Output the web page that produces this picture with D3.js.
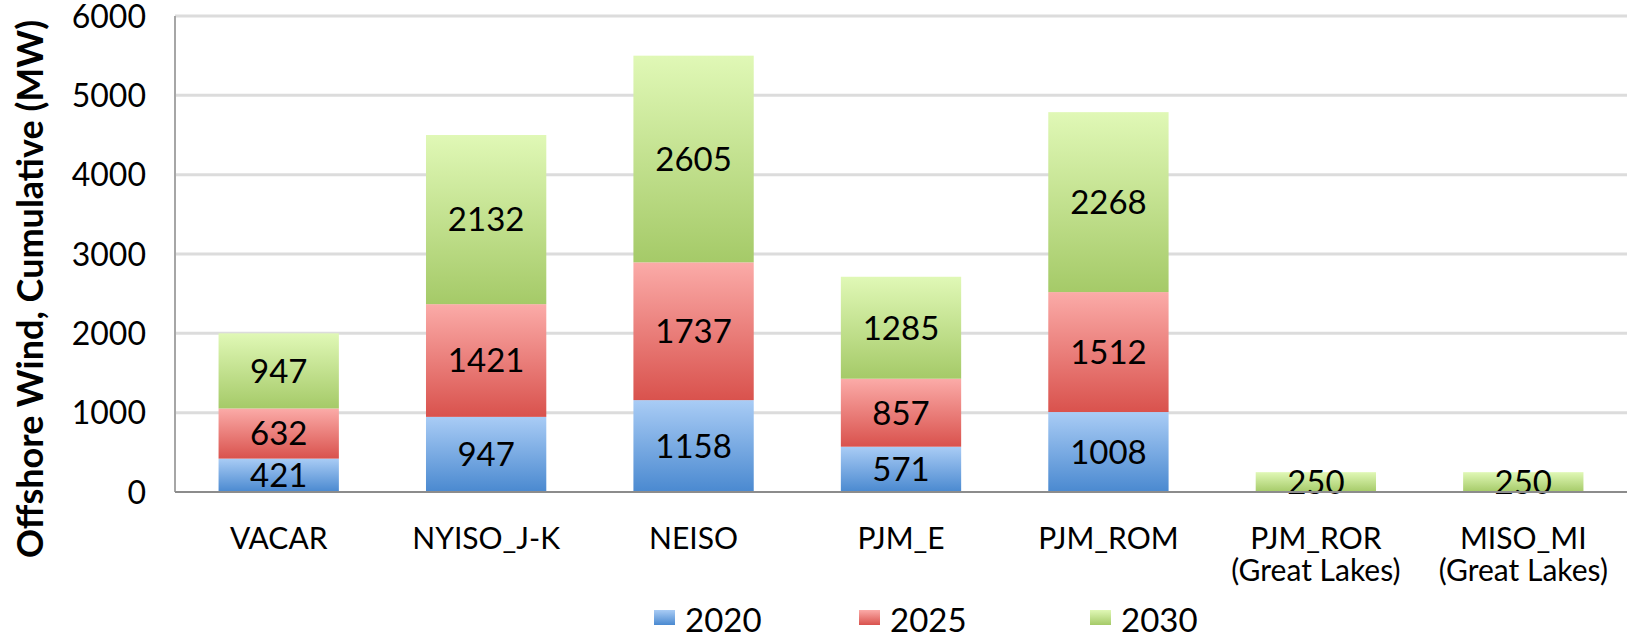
<!DOCTYPE html>
<html>
<head>
<meta charset="utf-8">
<script src="https://cdn.jsdelivr.net/npm/d3@7"></script>
<style>
  body { margin: 0; background: #fff; }
  text { font-family: Lato, "Open Sans", sans-serif; fill: #000; }
</style>
</head>
<body>
<svg width="1632" height="637"></svg>
<script>
// data
const regions = ["VACAR", "NYISO_J-K", "NEISO", "PJM_E", "PJM_ROM", "PJM_ROR\n(Great Lakes)", "MISO_MI\n(Great Lakes)"];
const years = ["2020", "2025", "2030"];
const mw2020 = [421, 947, 1158, 571, 1008, 0, 0];
const mw2025 = [632, 1421, 1737, 857, 1512, 0, 0];
const mw2030 = [947, 2132, 2605, 1285, 2268, 250, 250];
const yTicks = [0, 1000, 2000, 3000, 4000, 5000, 6000];

const svg = d3.select("svg");
const plotLeft = 175, plotRight = 1627, plotTop = 16, plotBottom = 492;

const rows = regions.map((r, i) => ({ region: r, "2020": mw2020[i], "2025": mw2025[i], "2030": mw2030[i] }));
const stacked = d3.stack().keys(years)(rows);

const x = d3.scaleBand().domain(regions).range([plotLeft, plotRight]).paddingInner(0.42).paddingOuter(0.21);
const y = d3.scaleLinear().domain([0, 6000]).range([plotBottom, plotTop]);

// gradients like the Excel fill
const grads = {
    "2020": ["#a9ccf5", "#4a89d0"],
    "2025": ["#fbaba8", "#d9524d"],
    "2030": ["#e0f8b6", "#a5ca68"]
};
const defs = svg.append("defs");
years.forEach(k => {
    const lg = defs.append("linearGradient").attr("id", "g" + k)
        .attr("x1", 0).attr("y1", 0).attr("x2", 0).attr("y2", 1);
    lg.append("stop").attr("offset", "0%").attr("stop-color", grads[k][0]);
    lg.append("stop").attr("offset", "100%").attr("stop-color", grads[k][1]);
});

// gridlines
svg.append("g")
    .selectAll("line")
    .data(yTicks.slice(1))
    .enter().append("line")
    .attr("x1", plotLeft).attr("x2", plotRight)
    .attr("y1", d => y(d)).attr("y2", d => y(d))
    .attr("stroke", "#dcdcdc").attr("stroke-width", 3);

// bars
const layer = svg.append("g").selectAll("g")
    .data(stacked)
    .enter().append("g")
    .attr("fill", d => "url(#g" + d.key + ")");

layer.selectAll("rect")
    .data(d => d.filter(s => s[1] - s[0] > 0))
    .enter().append("rect")
    .attr("x", d => x(d.data.region))
    .attr("width", x.bandwidth())
    .attr("y", d => y(d[1]))
    .attr("height", d => y(d[0]) - y(d[1]));

// axes lines
svg.append("line").attr("x1", plotLeft).attr("x2", plotLeft).attr("y1", plotTop).attr("y2", plotBottom)
    .attr("stroke", "#a6a6a6").attr("stroke-width", 2);
svg.append("line").attr("x1", plotLeft).attr("x2", plotRight).attr("y1", plotBottom).attr("y2", plotBottom)
    .attr("stroke", "#8c8c8c").attr("stroke-width", 2);

// data labels
layer.selectAll("text")
    .data(d => d.filter(s => s[1] - s[0] > 0))
    .enter().append("text")
    .attr("x", d => x(d.data.region) + x.bandwidth() / 2)
    .attr("y", d => y((d[0] + d[1]) / 2))
    .attr("dy", "0.36em")
    .attr("text-anchor", "middle")
    .style("font-size", "33px")
    .text(d => d[1] - d[0]);

// y tick labels
svg.append("g")
    .selectAll("text")
    .data(yTicks)
    .enter().append("text")
    .attr("x", 146)
    .attr("y", d => y(d))
    .attr("dy", "0.36em")
    .attr("text-anchor", "end")
    .style("font-size", "32px")
    .text(d => d);

// category labels
const cat = svg.append("g")
    .selectAll("text")
    .data(regions)
    .enter().append("text")
    .attr("x", d => x(d) + x.bandwidth() / 2)
    .attr("y", 549)
    .attr("text-anchor", "middle")
    .style("font-size", "30px");
cat.selectAll("tspan")
    .data(d => d.split("\n"))
    .enter().append("tspan")
    .attr("x", function () { return d3.select(this.parentNode).attr("x"); })
    .attr("dy", (d, i) => i ? 32 : 0)
    .text(d => d);

// y axis title
svg.append("text")
    .attr("transform", "translate(43,289) rotate(-90)")
    .attr("text-anchor", "middle")
    .style("font-size", "36px")
    .style("font-weight", "bold")
    .text("Offshore Wind, Cumulative (MW)");

// legend
const legendX = [654, 859, 1090];
const lg = svg.append("g").selectAll("g")
    .data(years)
    .enter().append("g")
    .attr("transform", (d, i) => "translate(" + legendX[i] + ",610)");
lg.append("rect").attr("width", 21).attr("height", 15)
    .attr("fill", d => "url(#g" + d + ")");
lg.append("text").attr("x", 31).attr("y", 22)
    .style("font-size", "33px")
    .text(d => d);
</script>
</body>
</html>
